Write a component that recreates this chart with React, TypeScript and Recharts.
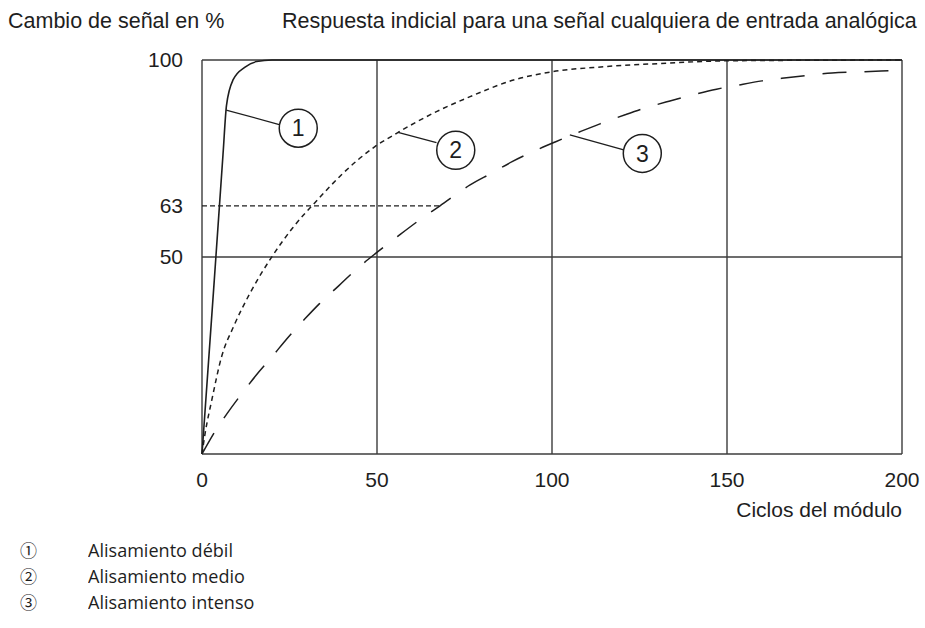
import { LineChart, Line, XAxis, YAxis, ReferenceLine, ReferenceDot, Label } from "recharts"

const xTicks = [0, 50, 100, 150, 200]
const yTicks = [50, 63, 100]
const gridX = [0, 50, 100, 150, 200]
const gridY = [0, 50, 100]

// 1 - weak smoothing
const weakX = [0, 3.5, 6, 7, 8.9, 12.3, 15.6, 20, 200]
const weakY = [0, 44, 76, 88.5, 95, 98.2, 99.6, 100, 100]

// 2 - medium smoothing
const mediumX = [0, 0.9, 2.8, 5.6, 9, 13.7, 20, 26, 33, 40, 49.4, 55.6, 67, 76.6, 89, 100, 115, 133, 150, 200]
const mediumY = [0, 5.3, 13.7, 24.7, 32.3, 40.8, 50.1, 57.5, 64.5, 71, 78, 81.4, 86.9, 90.7, 94.9, 97, 98.3, 99.2, 99.8, 100]

// 3 - strong smoothing
const strongX = [0, 3.7, 7.2, 11.6, 15.4, 20.4, 24.2, 29.4, 33.5, 39.2, 43.5, 49.6, 56, 62, 68, 76.6, 83, 88.6, 95.7, 100.9, 108, 113.7, 120.9, 126.6, 133.7, 140, 147, 153, 160, 167, 174, 180, 188, 194, 200]
const strongY = [0, 5.7, 10.3, 15.6, 19.9, 25.1, 29.2, 34.3, 38.1, 42.8, 46.4, 50.9, 55.3, 59.3, 63, 68.3, 71.4, 74.2, 77.2, 79.2, 81.8, 83.8, 86.1, 87.8, 89.6, 91.1, 92.6, 93.6, 94.7, 95.5, 96.2, 96.7, 97, 97.2, 97.3]

const legendItems = ["Alisamiento débil", "Alisamiento medio", "Alisamiento intenso"]
const legendMarks = ["①", "②", "③"]

const toPoints = (xs: number[], ys: number[]) => xs.map((x, i) => ({ x, y: ys[i] }))

const weakData = toPoints(weakX, weakY)
const mediumData = toPoints(mediumX, mediumY)
const strongData = toPoints(strongX, strongY)

// callouts: leader start (on curve), leader end, circle centre
const callouts = [
  { n: "1", from: { x: 6.9, y: 87.3 }, to: { x: 22.6, y: 83.5 }, c: { x: 27.5, y: 82.7 } },
  { n: "2", from: { x: 56, y: 81.6 }, to: { x: 67, y: 79 }, c: { x: 72.5, y: 77.1 } },
  { n: "3", from: { x: 105.1, y: 81 }, to: { x: 120.5, y: 77.2 }, c: { x: 125.8, y: 76.3 } },
]

const ink = "#1e1e1e"
const gridInk = "#3c3c3c"
const arial = "'Liberation Sans', Arial, sans-serif"

export default function App() {
  return (
    <div style={{ position: "absolute", left: 0, top: 0, width: 925, height: 628, background: "#fff", fontFamily: arial, color: ink }}>
      <LineChart width={925} height={628} margin={{ top: 60, right: 23, left: 142, bottom: 144 }}>
        <XAxis
          type="number"
          dataKey="x"
          domain={[0, 200]}
          ticks={xTicks}
          axisLine={false}
          tickLine={false}
          tickSize={0}
          tickMargin={18}
          height={30}
          tick={{ fill: ink, fontSize: 21, fontFamily: arial }}
        />
        <YAxis
          type="number"
          dataKey="y"
          domain={[0, 100]}
          ticks={yTicks}
          axisLine={false}
          tickLine={false}
          tickSize={0}
          tickMargin={19}
          width={60}
          tick={{ fill: ink, fontSize: 21, fontFamily: arial }}
        />
        {gridX.map((v) => (
          <ReferenceLine key={"gx" + v} x={v} stroke={gridInk} strokeWidth={1.4} />
        ))}
        {gridY.map((v) => (
          <ReferenceLine key={"gy" + v} y={v} stroke={gridInk} strokeWidth={1.4} />
        ))}
        <ReferenceLine segment={[{ x: 0, y: 63 }, { x: 68, y: 63 }]} stroke={ink} strokeWidth={1.3} strokeDasharray="5 3" />
        <Line data={weakData} dataKey="y" type="monotone" stroke={ink} strokeWidth={1.6} dot={false} isAnimationActive={false} />
        <Line data={mediumData} dataKey="y" type="monotone" stroke={ink} strokeWidth={1.5} strokeDasharray="5 4" dot={false} isAnimationActive={false} />
        <Line data={strongData} dataKey="y" type="monotone" stroke={ink} strokeWidth={1.5} strokeDasharray="24 18" dot={false} isAnimationActive={false} />
        {callouts.map((c) => (
          <ReferenceLine key={"l" + c.n} segment={[c.from, c.to]} stroke={ink} strokeWidth={1.3} />
        ))}
        {callouts.map((c) => (
          <ReferenceDot key={"d" + c.n} x={c.c.x} y={c.c.y} r={19} fill="#fff" stroke={ink} strokeWidth={1.5}>
            <Label value={c.n} position="center" fill={ink} fontSize={23} fontFamily={arial} />
          </ReferenceDot>
        ))}
      </LineChart>

      <div style={{ position: "absolute", left: 8, top: 9, fontSize: 21.5, whiteSpace: "nowrap" }}>Cambio de señal en %</div>
      <div style={{ position: "absolute", left: 282, top: 9, fontSize: 21.5, whiteSpace: "nowrap" }}>
        Respuesta indicial para una señal cualquiera de entrada analógica
      </div>
      <div style={{ position: "absolute", right: 23, top: 498, fontSize: 21, whiteSpace: "nowrap" }}>Ciclos del módulo</div>

      {legendItems.map((t, i) => (
        <div key={t} style={{ position: "absolute", left: 0, top: 537 + i * 26, height: 26, lineHeight: "26px", display: "flex", alignItems: "center", whiteSpace: "nowrap" }}>
          <span style={{ width: 88, paddingLeft: 20, boxSizing: "border-box", fontFamily: "'Noto Sans CJK JP', 'DejaVu Sans', sans-serif", fontSize: 17, lineHeight: "26px" }}>{legendMarks[i]}</span>
          <span style={{ display: "inline-block", fontFamily: "'Open Sans', sans-serif", fontSize: 19, lineHeight: "26px", transform: "scaleX(0.95)", transformOrigin: "left center" }}>{t}</span>
        </div>
      ))}
    </div>
  )
}
